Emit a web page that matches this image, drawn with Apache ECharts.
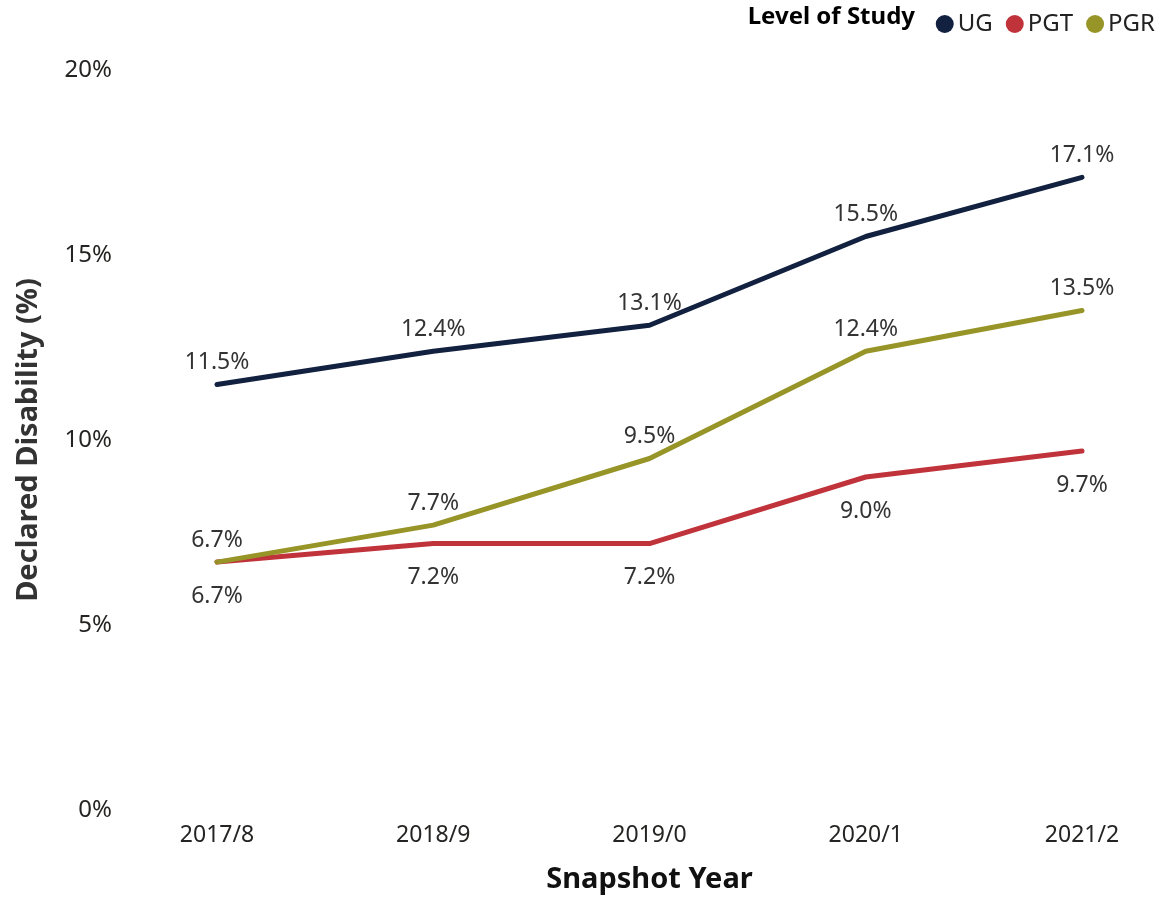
<!DOCTYPE html>
<html>
<head>
<meta charset="utf-8">
<script src="https://cdn.jsdelivr.net/npm/echarts@6/dist/echarts.min.js"></script>
<style>html,body{margin:0;padding:0;background:#fff;}#main{width:1168px;height:897px;}</style>
</head>
<body>
<div id="main"></div>
<script>
const categories = ['2017/8', '2018/9', '2019/0', '2020/1', '2021/2'];
const ug = [11.5, 12.4, 13.1, 15.5, 17.1];
const pgt = [6.7, 7.2, 7.2, 9.0, 9.7];
const pgr = [6.7, 7.7, 9.5, 12.4, 13.5];
const yTicks = [0, 5, 10, 15, 20];

const FONT = '"Noto Sans", "Open Sans", sans-serif';
const chart = echarts.init(document.getElementById('main'));
function mk(name, data, color, pos, dist) {
  return {
    name, type: 'line', data, symbol: 'circle', symbolSize: 1, showSymbol: true,
    lineStyle: { width: 5, color, cap: 'round', join: 'round' },
    itemStyle: { color },
    label: { show: true, position: pos, distance: dist, formatter: p => p.value.toFixed(1) + '%',
      color: '#333333', fontSize: 23, fontFamily: FONT },
    labelLayout: { hideOverlap: false },
    z: name === 'UG' ? 3 : 2
  };
}
chart.setOption({
  animation: false,
  textStyle: { fontFamily: FONT },
  graphic: [{ type: 'text', right: 253, top: 5, style: { text: 'Level of Study', fontSize: 24, fontWeight: 'bold', fontFamily: FONT, fill: '#000' } }],
  legend: {
    right: 8, top: 7, icon: 'circle', itemWidth: 18, itemHeight: 18, itemGap: 13,
    textStyle: { fontSize: 24, color: '#222', fontFamily: FONT, padding: [0, 0, 0, -1] },
    data: ['UG', 'PGT', 'PGR']
  },
  grid: { left: 217, right: 86, top: 70, bottom: 87, outerBoundsMode: 'none', containLabel: false },
  xAxis: {
    type: 'category', data: categories, boundaryGap: false,
    axisLine: { show: false }, axisTick: { show: false },
    axisLabel: { fontSize: 23, color: '#252423', margin: 14, fontFamily: FONT },
    name: 'Snapshot Year', nameLocation: 'middle', nameGap: 55,
    nameTextStyle: { fontSize: 29, fontWeight: 'bold', color: '#111', fontFamily: FONT }
  },
  yAxis: {
    type: 'value', min: yTicks[0], max: yTicks[yTicks.length - 1], interval: 5,
    splitLine: { show: false }, axisLine: { show: false }, axisTick: { show: false },
    axisLabel: { formatter: v => v + '%', fontSize: 24, color: '#252423', margin: 105, fontFamily: FONT },
    name: 'Declared Disability (%)', nameLocation: 'middle', nameGap: 174, nameRotate: 90,
    nameTextStyle: { fontSize: 29, fontWeight: 'bold', color: '#333', fontFamily: FONT }
  },
  series: [
    mk('UG', ug, '#12213F', 'top', 10),
    mk('PGT', pgt, '#C1333B', 'bottom', 22),
    mk('PGR', pgr, '#979428', 'top', 10)
  ]
});
</script>
</body>
</html>
